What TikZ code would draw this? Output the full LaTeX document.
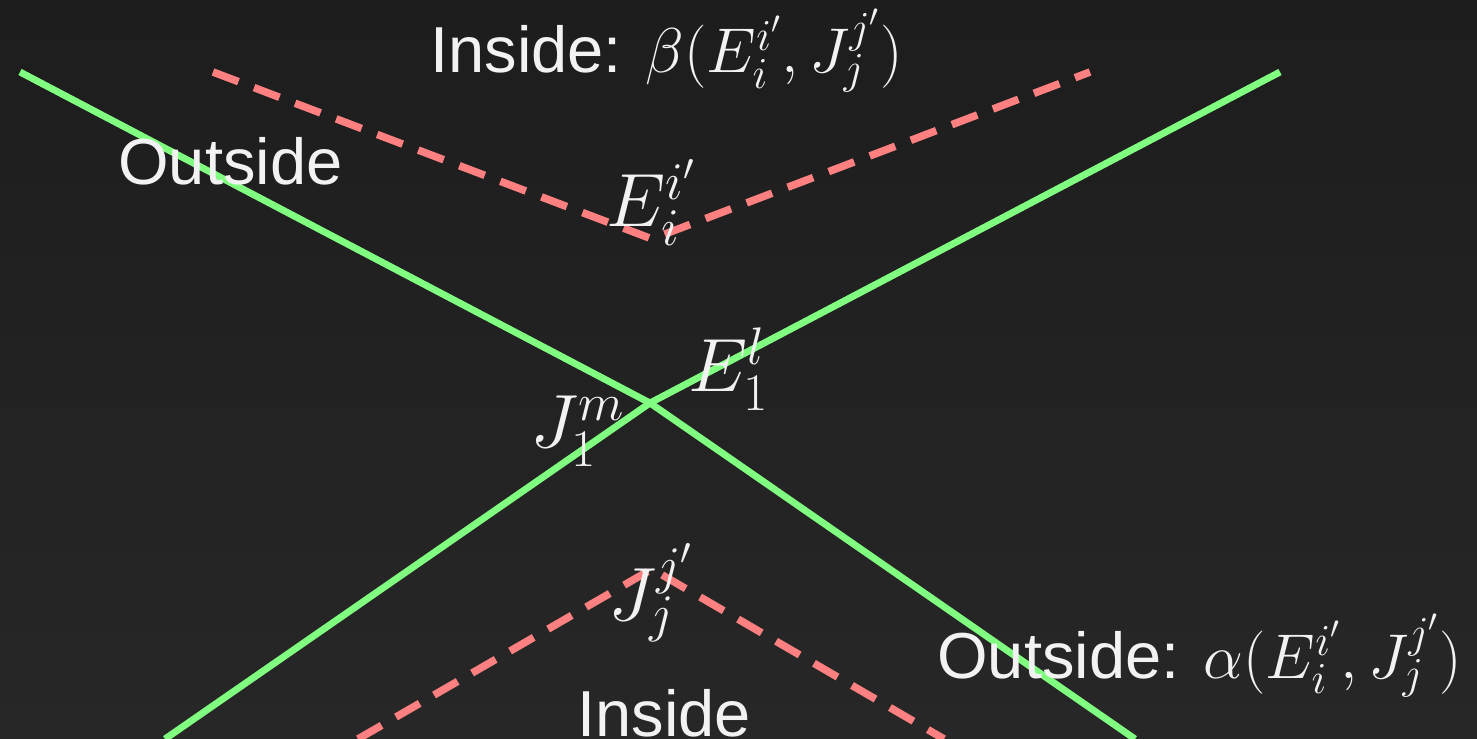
\RequirePackage{fix-cm}
\documentclass[tikz,border=0pt]{standalone}
\usepackage{fontspec}
\setmainfont{Liberation Sans}
\definecolor{bgtop}{HTML}{1D1D1D}
\definecolor{bgbot}{HTML}{272727}
\definecolor{lgreen}{HTML}{80FF80}
\definecolor{salmon}{HTML}{FF8080}
\definecolor{txt}{HTML}{F2F2F2}
\tikzset{
  greenline/.style={draw=lgreen, line width=3.9pt},
  dashline/.style={draw=salmon, line width=4.3pt, dash pattern=on 15.5pt off 9.5pt},
  sanslabel/.style={text=txt, inner sep=0pt, anchor=base west, font=\fontsize{37}{44}\selectfont},
  mathlabel/.style={text=txt, inner sep=0pt, anchor=base west, font=\fontsize{43}{52}\selectfont},
}
\begin{document}
\begin{tikzpicture}[x=0.02cm, y=-0.02cm]
\useasboundingbox (0,0) rectangle (1477,739);
\shade[top color=bgtop, bottom color=bgbot] (0,0) rectangle (1477,739);
% points
\coordinate (gA) at (20,72);
\coordinate (gB) at (1280,72);
\coordinate (X) at (650,403);
\coordinate (gC) at (1135,739);
\coordinate (gD) at (165,739);
\coordinate (uL) at (213,72);
\coordinate (uV) at (652,239);
\coordinate (uR) at (1090,72);
\coordinate (lL) at (358,739);
\coordinate (lV) at (652,569);
\coordinate (lR) at (944,739);
% green lines
\draw[greenline, line join=miter] (gA) -- (X) -- (gC);
\draw[greenline, line join=miter] (gB) -- (X) -- (gD);
% dashed lines
\draw[dashline] (uL) -- (uV) -- (uR);
\draw[dashline] (lL) -- (lV) -- (lR);
% labels
\node[sanslabel] (tin) at (430,73) {Inside: {\fontsize{36}{40}\selectfont$\beta(E_i^{i'},J_j^{j'})$}};
\node[sanslabel] (tout) at (118,185) {Outside};
\node[sanslabel] (bout) at (937,678) {Outside: {\fontsize{36}{40}\selectfont$\alpha(E_i^{i'},J_j^{j'})$}};
\node[sanslabel] (bin) at (577,736) {Inside};
\node[mathlabel] (eii) at (606,227) {$E_i^{i'}$};
\node[mathlabel] (e1l) at (688,392) {$E_1^l$};
\node[mathlabel] (j1m) at (530,448) {$J_1^m$};
\node[mathlabel] (jjj) at (608,620) {$J_j^{j'}$};
\end{tikzpicture}
\end{document}
